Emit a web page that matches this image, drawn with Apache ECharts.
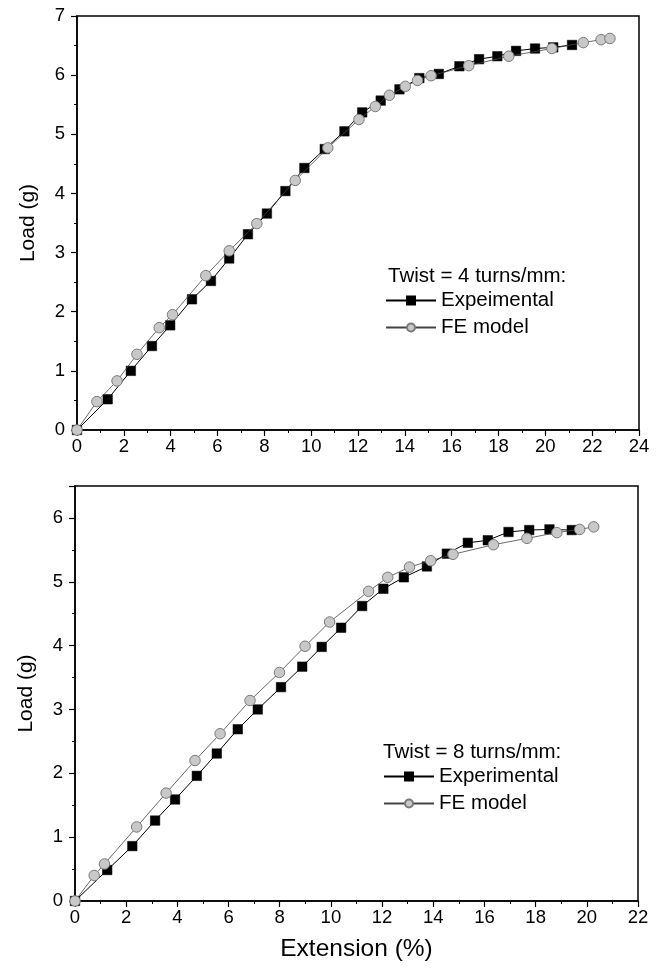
<!DOCTYPE html>
<html><head><meta charset="utf-8">
<script src="https://cdn.jsdelivr.net/npm/echarts@6/dist/echarts.min.js"></script>
<style>html,body{margin:0;padding:0;background:#fff}#c{width:667px;height:970px}</style>
</head><body><div id="c"></div>
<script>
// Top panel (Twist = 4 turns/mm)
const topExpX = [0, 1.31, 2.30, 3.20, 3.98, 4.91, 5.72, 6.50, 7.30, 8.11, 8.90, 9.71, 10.58, 11.42, 12.18, 12.97, 13.77, 14.62, 15.45, 16.33, 17.17, 17.95, 18.75, 19.56, 20.34, 21.14];
const topExpY = [0, 0.52, 1.00, 1.42, 1.77, 2.21, 2.52, 2.90, 3.31, 3.66, 4.04, 4.43, 4.75, 5.05, 5.37, 5.57, 5.76, 5.95, 6.02, 6.15, 6.27, 6.32, 6.41, 6.45, 6.47, 6.51];
const topFeX = [0, 0.85, 1.71, 2.56, 3.51, 4.08, 5.50, 6.50, 7.68, 9.32, 10.71, 12.04, 12.74, 13.34, 14.02, 14.54, 15.12, 16.73, 18.44, 20.28, 21.62, 22.38, 22.76];
const topFeY = [0, 0.48, 0.83, 1.28, 1.73, 1.95, 2.61, 3.03, 3.49, 4.22, 4.77, 5.25, 5.47, 5.66, 5.81, 5.91, 5.99, 6.16, 6.32, 6.45, 6.55, 6.60, 6.62];
// Bottom panel (Twist = 8 turns/mm)
const botExpX = [0, 1.26, 2.24, 3.13, 3.91, 4.76, 5.54, 6.36, 7.14, 8.05, 8.88, 9.64, 10.40, 11.22, 12.05, 12.85, 13.75, 14.53, 15.35, 16.13, 16.94, 17.75, 18.54, 19.41];
const botExpY = [0, 0.485, 0.86, 1.26, 1.59, 1.96, 2.31, 2.69, 3.00, 3.35, 3.67, 3.98, 4.28, 4.62, 4.89, 5.07, 5.24, 5.44, 5.61, 5.65, 5.78, 5.81, 5.82, 5.81];
const botFeX = [0, 0.75, 1.15, 2.41, 3.56, 4.69, 5.67, 6.84, 7.99, 8.99, 9.95, 11.47, 12.22, 13.07, 13.90, 14.77, 16.35, 17.66, 18.83, 19.72, 20.27];
const botFeY = [0, 0.40, 0.58, 1.16, 1.69, 2.20, 2.62, 3.14, 3.58, 3.99, 4.37, 4.85, 5.07, 5.23, 5.33, 5.43, 5.58, 5.68, 5.77, 5.82, 5.86];

const topTitle = 'Twist = 4 turns/mm:';
const botTitle = 'Twist = 8 turns/mm:';
const topNames = ['Expeimental', 'FE model'];
const botNames = ['Experimental', 'FE model'];
const yName = 'Load (g)';
const xName = 'Extension (%)';

const zip = (xs, ys) => xs.map((x, i) => [x, ys[i]]);
const FONT = '"Liberation Sans", Arial, sans-serif';

function xAxis(gi, max, name) {
  return {
    type: 'value', gridIndex: gi, min: 0, max: max, interval: 2,
    axisLine: {show: true, onZero: false, lineStyle: {color: '#000', width: 1.5}},
    axisTick: {show: true, inside: false, length: 6, lineStyle: {color: '#000', width: 1.2}},
    minorTick: {show: true, splitNumber: 2, length: 3, lineStyle: {color: '#000', width: 1}},
    splitLine: {show: false}, minorSplitLine: {show: false},
    axisLabel: {color: '#000', fontSize: 18.5, fontFamily: FONT, margin: 7},
    name: name || '', nameLocation: 'middle', nameGap: 36,
    nameTextStyle: {color: '#000', fontSize: 24.5, fontFamily: FONT}
  };
}
function yAxis(gi, max) {
  return {
    type: 'value', gridIndex: gi, min: 0, max: max, interval: 1,
    axisLine: {show: true, onZero: false, lineStyle: {color: '#000', width: 1.5}},
    axisTick: {show: true, inside: false, length: 6, lineStyle: {color: '#000', width: 1.2}},
    minorTick: {show: true, splitNumber: 2, length: 3, lineStyle: {color: '#000', width: 1}},
    splitLine: {show: false}, minorSplitLine: {show: false},
    axisLabel: {color: '#000', fontSize: 18.5, fontFamily: FONT, margin: 12,
      formatter: v => (Number.isInteger(v) ? String(v) : '')},
    name: yName, nameLocation: 'middle', nameGap: 38,
    nameTextStyle: {color: '#000', fontSize: 21, fontFamily: FONT}
  };
}
function expSeries(name, gi, xs, ys) {
  return {
    type: 'line', name: name, xAxisIndex: gi, yAxisIndex: gi, data: zip(xs, ys),
    symbol: 'rect', symbolSize: 9.5, z: 3,
    lineStyle: {color: '#000', width: 1},
    itemStyle: {color: '#000', borderColor: '#000', borderWidth: 0.5}
  };
}
function feSeries(name, gi, xs, ys) {
  return {
    type: 'line', name: name, xAxisIndex: gi, yAxisIndex: gi, data: zip(xs, ys),
    symbol: 'circle', symbolSize: 10.5, z: 4,
    lineStyle: {color: '#444', width: 0.8},
    itemStyle: {color: '#c8c8c8', borderColor: '#7a7a7a', borderWidth: 1}
  };
}

const chart = echarts.init(document.getElementById('c'), null, {renderer: 'canvas'});
chart.setOption({
  backgroundColor: '#fff',
  animation: false,
  grid: [
    {left: 77, top: 16, width: 562, height: 414, show: true, borderColor: '#000', borderWidth: 1.5, containLabel: false},
    {left: 75, top: 486, width: 563, height: 415, show: true, borderColor: '#000', borderWidth: 1.5, containLabel: false}
  ],
  xAxis: [xAxis(0, 24), xAxis(1, 22, xName)],
  yAxis: [yAxis(0, 7), yAxis(1, 6.5)],
  legend: [
    {data: topNames, orient: 'vertical', left: 385, top: 290, padding: 0, itemWidth: 50, itemHeight: 10, itemGap: 6,
     textStyle: {color: '#000', fontSize: 20.5, fontFamily: FONT}, selectedMode: false},
    {data: botNames, orient: 'vertical', left: 383, top: 766, padding: 0, itemWidth: 50, itemHeight: 10, itemGap: 6,
     textStyle: {color: '#000', fontSize: 20.5, fontFamily: FONT}, selectedMode: false}
  ],
  graphic: [
    {type: 'text', left: 388, top: 266, style: {text: topTitle, fill: '#000', font: '20.5px ' + FONT}},
    {type: 'text', left: 383, top: 742, style: {text: botTitle, fill: '#000', font: '20.5px ' + FONT}}
  ],
  series: [
    expSeries(topNames[0], 0, topExpX, topExpY),
    feSeries(topNames[1], 0, topFeX, topFeY),
    expSeries(botNames[0], 1, botExpX, botExpY),
    feSeries(botNames[1], 1, botFeX, botFeY)
  ]
});
</script></body></html>
